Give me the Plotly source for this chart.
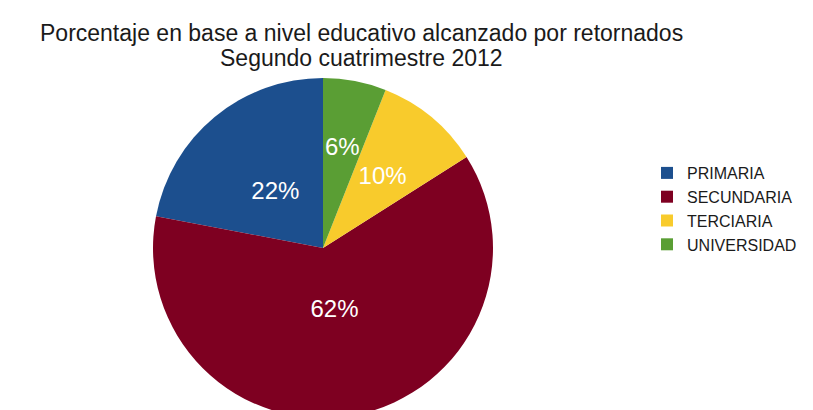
import plotly.graph_objects as go

categories = ["PRIMARIA", "SECUNDARIA", "TERCIARIA", "UNIVERSIDAD"]
values = [22, 62, 10, 6]
colors = ["#1C4F8E", "#7E0021", "#F8CB2C", "#5A9E34"]
title_line1 = "Porcentaje en base a nivel educativo alcanzado por retornados"
title_line2 = "Segundo cuatrimestre 2012"

FONT = "Liberation Sans, Arial, sans-serif"
W, H = 813, 410
TOP = 70
CX = 315                     # pie centre, px
R = (H - TOP) / 2            # pie radius, px
LABEL_R = 0.72 * R           # radius of the (invisible) label ring

# first slice (PRIMARIA) sits just left of 12 o'clock, going counterclockwise
rotation = -values[0] / sum(values) * 360


def dom_x(r):
    return [(CX - r) / W, (CX + r) / W]


def dom_y(r):
    cy = (H - TOP) / 2
    return [(cy - r) / (H - TOP), (cy + r) / (H - TOP)]


fig = go.Figure()
# coloured slices + legend
fig.add_trace(go.Pie(
    labels=categories,
    values=values,
    sort=False,
    direction="counterclockwise",
    rotation=rotation,
    marker=dict(colors=colors, line=dict(width=0)),
    textinfo="none",
    domain=dict(x=dom_x(R), y=[0, 1]),
    hoverinfo="label+percent",
))
# percentage labels, placed closer to the centre like the reference
fig.add_trace(go.Pie(
    labels=categories,
    values=values,
    sort=False,
    direction="counterclockwise",
    rotation=rotation,
    marker=dict(colors=["rgba(0,0,0,0)"] * len(values), line=dict(width=0)),
    texttemplate="%{percent:.0%}",
    textposition="inside",
    insidetextorientation="horizontal",
    textfont=dict(color="white", size=24, family=FONT),
    domain=dict(x=dom_x(LABEL_R), y=dom_y(LABEL_R)),
    showlegend=False,
    hoverinfo="skip",
))


def paper_y(px):
    return 1 + (TOP - px) / (H - TOP)


fig.update_layout(
    width=W, height=H,
    margin=dict(l=0, r=0, t=TOP, b=0),
    paper_bgcolor="white",
    plot_bgcolor="white",
    font=dict(family=FONT, color="#1a1a1a"),
    uniformtext=dict(minsize=24, mode="show"),
    annotations=[
        dict(text=title_line1, x=0.435, y=paper_y(25), xref="paper", yref="paper",
             xanchor="center", yanchor="middle", showarrow=False,
             font=dict(size=23, color="#1a1a1a", family=FONT)),
        dict(text=title_line2, x=0.435, y=paper_y(50), xref="paper", yref="paper",
             xanchor="center", yanchor="middle", showarrow=False,
             font=dict(size=23, color="#1a1a1a", family=FONT)),
    ],
    legend=dict(
        x=0.786, xanchor="left",
        y=paper_y(201), yanchor="middle",
        font=dict(size=16, color="#1a1a1a"),
        itemwidth=30,
    ),
)

fig.write_html("out.html")
